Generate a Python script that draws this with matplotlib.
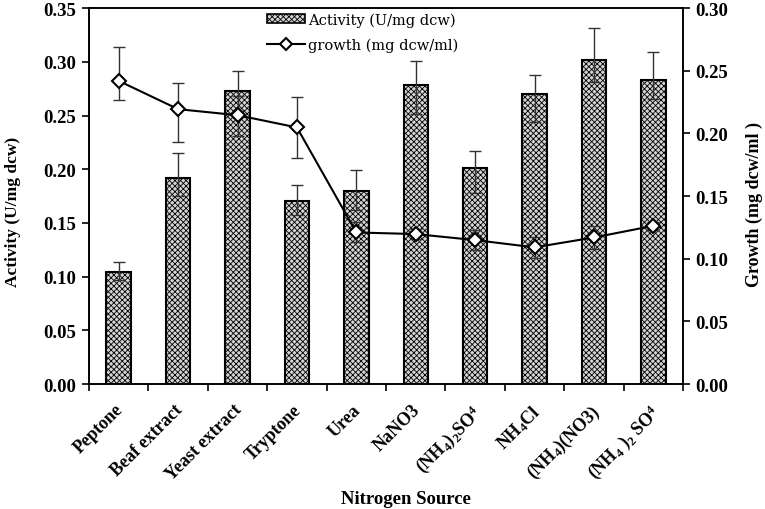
import matplotlib
matplotlib.use("Agg")
import matplotlib.pyplot as plt
import matplotlib.transforms as mtransforms
import numpy as np
from matplotlib.lines import Line2D
from matplotlib.patches import Patch

plt.rcParams['mathtext.fontset'] = 'custom'
plt.rcParams['mathtext.rm'] = 'Liberation Serif:bold'
plt.rcParams['mathtext.bf'] = 'Liberation Serif:bold'
plt.rcParams['mathtext.it'] = 'Liberation Serif:bold'
plt.rcParams['hatch.color'] = '#3a3a3a'
plt.rcParams['hatch.linewidth'] = 0.6

categories = ['Peptone', 'Beaf extract', 'Yeast extract', 'Tryptone', 'Urea', 'NaNO3',
              r'(NH$_4$)$_2$SO$^4$', r'NH$_4$Cl', r'(NH$_4$)(NO3)', r'(NH$_4$ )$_2$ SO$^4$']
activity = [0.1045, 0.1915, 0.273, 0.170, 0.180, 0.2786, 0.2008, 0.270, 0.3016, 0.2833]
activity_err_low = [0.0075, 0.0165, 0.019, 0.0125, 0.018, 0.027, 0.023, 0.026, 0.020, 0.018]
activity_err_high = [0.0093, 0.0235, 0.0186, 0.015, 0.019, 0.0218, 0.016, 0.018, 0.030, 0.0255]
growth = [0.242, 0.2194, 0.2146, 0.2048, 0.121, 0.1197, 0.1149, 0.1091, 0.117, 0.1263]
growth_err_low = [0.015, 0.026, 0.017, 0.024, 0.008, 0.004, 0.008, 0.0085, 0.009, 0.003]
growth_err_high = [0.027, 0.021, 0.015, 0.024, 0.008, 0.004, 0.008, 0.0085, 0.009, 0.003]

FS = 13.5
fig = plt.figure(figsize=(7.65, 5.1), dpi=100)
ax = fig.add_axes([0.1163, 0.245, 0.893 - 0.1163, 0.982 - 0.245])
x = np.arange(len(categories))

ax.bar(x, activity, width=0.41, facecolor='#d4d4d4', edgecolor='black', linewidth=1.5,
       hatch='xxxxxx', zorder=2)
ax.errorbar(x, activity, yerr=[activity_err_low, activity_err_high], fmt='none',
            ecolor='#333333', elinewidth=1.0, capsize=4, capthick=1.0, zorder=3)

ax.set_xlim(-0.5, len(categories) - 0.5)
ax.set_ylim(0, 0.35)
ax.set_yticks(np.arange(0, 0.351, 0.05))
ax.set_yticklabels([f'{v:.2f}' for v in np.arange(0, 0.351, 0.05)])
ax.set_xticks(x)
ax.set_xticks(np.arange(-0.5, len(categories), 1.0), minor=True)
ax.tick_params(axis='x', which='major', length=0, pad=12)
ax.tick_params(axis='x', which='minor', length=5, width=1.2, direction='out')
ax.tick_params(axis='y', length=5, width=1.2, direction='out', pad=4)
ax.set_xticklabels(categories, rotation=45, ha='right', va='top', rotation_mode='anchor',
                   fontfamily='Liberation Serif', fontweight='bold', fontsize=13)
shift = mtransforms.ScaledTranslation(-4 / 100, 0, fig.dpi_scale_trans)
for lab in ax.get_xticklabels():
    lab.set_transform(lab.get_transform() + shift)
for lab in ax.get_yticklabels():
    lab.set_fontfamily('Liberation Serif'); lab.set_fontweight('bold'); lab.set_fontsize(FS)
for s in ax.spines.values():
    s.set_linewidth(1.2)

ax.set_ylabel('Activity (U/mg dcw)', fontfamily='Liberation Serif', fontweight='bold', fontsize=12.5)
ax.yaxis.set_label_coords(-0.114, 0.46)
fig.text(0.531, 0.02, 'Nitrogen Source', ha='center', va='center',
         fontfamily='Liberation Serif', fontweight='bold', fontsize=FS)

ax2 = ax.twinx()
ax2.set_ylim(0, 0.30)
ax2.set_yticks(np.arange(0, 0.301, 0.05))
ax2.set_yticklabels([f'{v:.2f}' for v in np.arange(0, 0.301, 0.05)])
ax2.tick_params(axis='y', length=5, width=1.2, direction='out', pad=4)
for lab in ax2.get_yticklabels():
    lab.set_fontfamily('Liberation Serif'); lab.set_fontweight('bold'); lab.set_fontsize(FS)
ax2.errorbar(x, growth, yerr=[growth_err_low, growth_err_high], fmt='none',
             ecolor='#333333', elinewidth=1.0, capsize=4, capthick=1.0, zorder=3)
ax2.plot(x, growth, color='black', linewidth=1.5, marker='D', markersize=7,
         markerfacecolor='white', markeredgecolor='black', markeredgewidth=1.5, zorder=4)
ax2.set_ylabel('Growth (mg dcw/ml )', fontfamily='Liberation Serif', fontweight='bold', fontsize=13)
ax2.yaxis.set_label_coords(1.105, 0.48)
for s in ax2.spines.values():
    s.set_linewidth(1.2)

handles = [Patch(facecolor='#d4d4d4', edgecolor='black', hatch='xxxxxx', linewidth=1.2),
           Line2D([], [], color='black', linewidth=1.5, marker='D', markersize=6,
                  markerfacecolor='white', markeredgecolor='black', markeredgewidth=1.5)]
ax2.legend(handles, ['Activity (U/mg dcw)', 'growth (mg dcw/ml)'], loc='upper left',
           bbox_to_anchor=(0.2895, 1.005), frameon=False,
           prop={'family': 'DejaVu Serif', 'size': 10.5}, handlelength=2.6,
           handleheight=0.6, handletextpad=0.25, labelspacing=0.75, borderaxespad=0)

fig.savefig('out.png', dpi=100)
